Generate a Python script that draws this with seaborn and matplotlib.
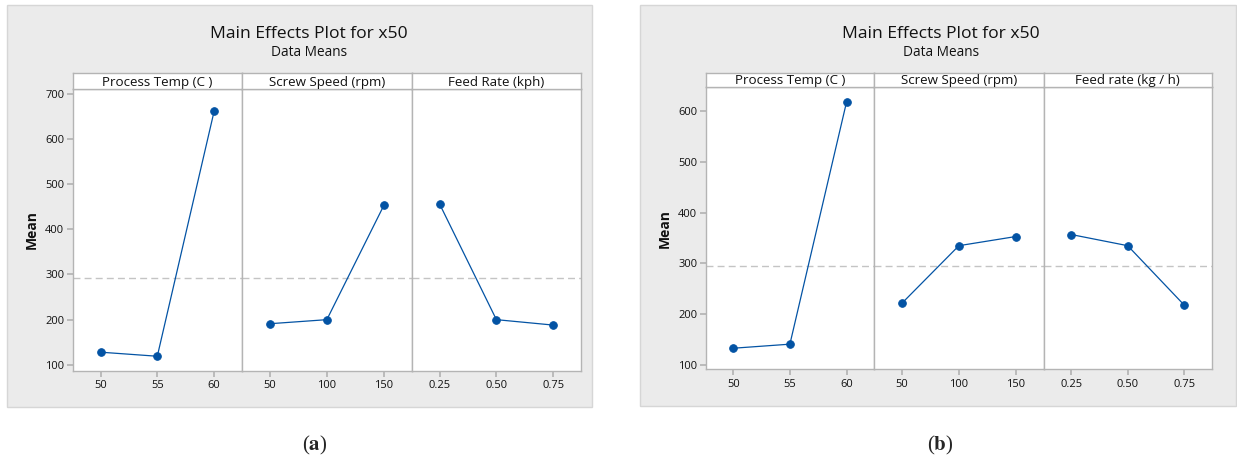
import matplotlib
matplotlib.use('Agg')
import matplotlib.pyplot as plt
from matplotlib.patches import Rectangle
import seaborn as sns

# factor names and levels
factors_a = ['Process Temp (C )', 'Screw Speed (rpm)', 'Feed Rate (kph)']
factors_b = ['Process Temp (C )', 'Screw Speed (rpm)', 'Feed rate (kg / h)']
temp_levels = ['50', '55', '60']
speed_levels = ['50', '100', '150']
feed_levels = ['0.25', '0.50', '0.75']

# means (a)
temp_a = [128, 119, 661]
speed_a = [191, 200, 453]
feed_a = [456, 200, 188]
grand_mean_a = 292

# means (b)
temp_b = [133, 141, 618]
speed_b = [222, 335, 353]
feed_b = [357, 335, 218]
grand_mean_b = 295

yticks_a = [100, 200, 300, 400, 500, 600, 700]
yticks_b = [100, 200, 300, 400, 500, 600]

W, H = 1237, 463
BLUE = '#0353A4'
FRAME = '#B4B4B4'
BG = '#EBEBEB'
TXT = '#111111'

sns.set_theme(style='white')
plt.rcParams['font.family'] = ['Open Sans', 'DejaVu Sans']
plt.rcParams['mathtext.fontset'] = 'stix'

fig = plt.figure(figsize=(W / 100, H / 100), dpi=100)


def fx(px):
    return px / W


def fy(py):
    return 1 - py / H


def draw_chart(box, xs, y_strip, y_bot, title_x, factors, series, grand_mean, ylim, yticks, ylab_x):
    # grey background box behind the panels
    x0, y0, x1, y1 = box
    fig.patches.append(Rectangle((fx(x0), fy(y1)), fx(x1 - x0), (y1 - y0) / H,
                                 transform=fig.transFigure, facecolor=BG,
                                 edgecolor='#D6D6D6', linewidth=1, zorder=-5))
    fig.text(fx(title_x), fy(34), 'Main Effects Plot for x50', ha='center', va='center',
             fontsize=12.6, color=TXT)
    fig.text(fx(title_x), fy(53), 'Data Means', ha='center', va='center',
             fontsize=9.8, color=TXT)
    y_top = y_strip[1]
    for i, (name, (levels, vals)) in enumerate(zip(factors, series)):
        left, right = xs[i], xs[i + 1]
        ax = fig.add_axes([fx(left), fy(y_bot), fx(right - left), (y_bot - y_top) / H])
        ax.set_facecolor('white')
        sns.pointplot(x=levels, y=vals, ax=ax, color=BLUE, order=levels,
                      markers='o', markersize=5.5, linewidth=0.9, errorbar=None)
        ax.axhline(grand_mean, color='#C4C4C4', linestyle=(0, (5, 3)), linewidth=1, zorder=0)
        ax.set_xlim(-0.49, 2.49)
        ax.set_ylim(*ylim)
        ax.set_xlabel('')
        for s in ax.spines.values():
            s.set_color(FRAME)
            s.set_linewidth(1)
        ax.tick_params(axis='x', direction='out', length=4, color=FRAME,
                       labelsize=8, labelcolor=TXT, pad=3, bottom=True)
        if i == 0:
            ax.set_yticks(yticks)
            ax.tick_params(axis='y', direction='out', length=4, color=FRAME,
                           labelsize=8, labelcolor=TXT, pad=2, left=True)
        else:
            ax.set_yticks([])
        ax.set_ylabel('')
        # strip header
        sax = fig.add_axes([fx(left), fy(y_strip[1]), fx(right - left), (y_strip[1] - y_strip[0]) / H])
        sax.set_facecolor('white')
        sax.set_xticks([])
        sax.set_yticks([])
        for s in sax.spines.values():
            s.set_color(FRAME)
            s.set_linewidth(1)
        sax.text(0.5, 0.45, name, ha='center', va='center', fontsize=9.6,
                 color=TXT, transform=sax.transAxes)
    fig.text(fx(ylab_x), fy((y_top + y_bot) / 2), 'Mean', rotation=90, ha='center',
             va='center', fontsize=10, fontweight='bold', color=TXT)


draw_chart((7, 5, 592, 407), [72.7, 241.9, 411.8, 581.0], (73.3, 89.3), 370.7, 309,
           factors_a,
           [(temp_levels, temp_a), (speed_levels, speed_a), (feed_levels, feed_a)],
           grand_mean_a, (87, 710), yticks_a, 32)
draw_chart((640, 5, 1236, 406), [705.5, 874.3, 1043.5, 1211.9], (72.7, 87.3), 369.3, 941,
           factors_b,
           [(temp_levels, temp_b), (speed_levels, speed_b), (feed_levels, feed_b)],
           grand_mean_b, (91.5, 647), yticks_b, 665)

fig.text(fx(315), fy(445), r'($\mathbf{a}$)', ha='center', va='center', fontsize=15,
         family='Liberation Serif')
fig.text(fx(940), fy(445), r'($\mathbf{b}$)', ha='center', va='center', fontsize=15,
         family='Liberation Serif')

fig.savefig('out.png', dpi=100)
